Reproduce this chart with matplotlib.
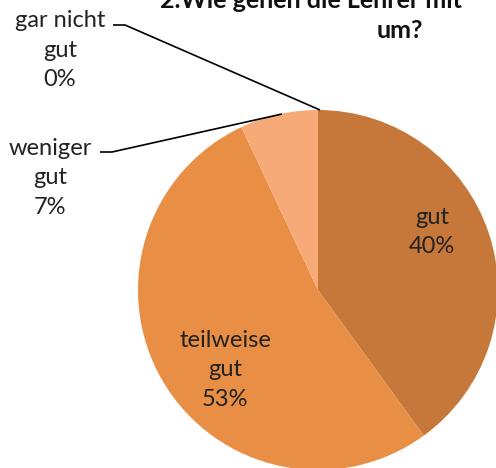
import matplotlib.pyplot as plt

categories = ["gut", "teilweise gut", "weniger gut", "gar nicht gut"]
shares = [40, 53, 7, 0]
label_texts = ["gut\n40%", "teilweise\ngut\n53%", "weniger\ngut\n7%", "gar nicht\ngut\n0%"]
colors = ["#C57839", "#E88F45", "#F5AA78", "#F8C5A0"]
title_line1 = "2.Wie gehen die Lehrer mit"
title_line2 = "um?"

W, H = 496, 468
CX, CY, R = 318, 290, 180


def to_data(px, py):
    return (px - CX) / R, (CY - py) / R


plt.rcParams["font.family"] = ["Lato", "DejaVu Sans"]

fig = plt.figure(figsize=(W / 100, H / 100), dpi=100)
ax = fig.add_axes([0, 0, 1, 1])

ax.pie(shares, colors=colors, startangle=90, counterclock=False, radius=1.0,
       wedgeprops=dict(linewidth=0))

ax.set_xlim(-CX / R, (W - CX) / R)
ax.set_ylim(-(H - CY) / R, CY / R)
ax.set_aspect("auto")
ax.axis("off")

fs = 17
positions = [(432, 232), (225, 370), (50, 178), (60, 50)]
for txt, (px, py) in zip(label_texts, positions):
    x, y = to_data(px, py)
    ax.text(x, y, txt, ha="center", va="center", fontsize=fs,
            linespacing=1.5, color="#222222")

# leader lines
for pts in ([(100, 152), (112, 152), (282, 114)],
            [(113, 25), (125, 25), (320, 110)]):
    xs, ys = zip(*[to_data(p, q) for p, q in pts])
    ax.plot(xs, ys, color="black", linewidth=1.2, solid_capstyle="butt")

fig.text(160 / W, 1 - 1 / H, title_line1, ha="left", va="center",
         fontsize=fs + 1, fontweight="bold", color="#111111")
fig.text(400 / W, 1 - 30 / H, title_line2, ha="center", va="center",
         fontsize=fs + 1, fontweight="bold", color="#111111")

fig.savefig("out.png", dpi=100)
plt.close(fig)
